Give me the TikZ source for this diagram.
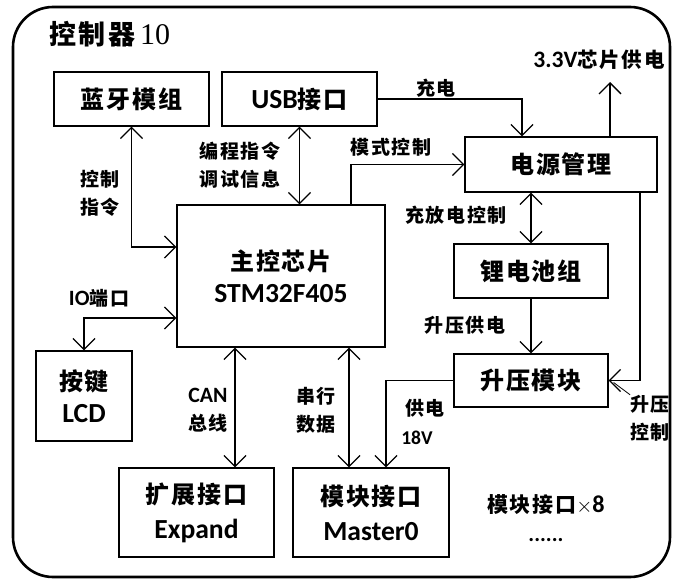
\documentclass[tikz,border=0pt]{standalone}
\usepackage{fontspec}
\setmainfont{Carlito}[Scale=1.15]
\newfontfamily\cjk[LetterSpace=8]{Noto Sans CJK SC}
\newfontfamily\tms{Liberation Serif}
\newcommand{\zh}[1]{{\cjk #1}}
\usetikzlibrary{arrows.meta}
\begin{document}
\begin{tikzpicture}[x=1pt, y=-1pt, every node/.style={font=\bfseries\fontsize{19}{28}\selectfont},
  >={Straight Barb[length=11pt,width=22pt]}]
\tikzset{blk/.style={draw,line width=1.3pt,align=center,inner sep=0pt,font=\bfseries\fontsize{24}{32}\selectfont},
  link/.style={line width=1.3pt},
  lbl/.style={align=center,inner sep=0pt}}
\useasboundingbox (0,0) rectangle (673,581);
\draw[line width=2.6pt,rounded corners=40pt] (13,7) rectangle (670,577);
\node[lbl,font=\fontsize{27}{30}\selectfont] (title) at (110,34) {\zh{\bfseries 控制器}\,{\tms\fontsize{30}{30}\selectfont 10}};
% blocks
\node[blk,minimum width=155pt,minimum height=54pt] (bt) at (131.5,99) {\zh{蓝牙模组}};
\node[blk,minimum width=155pt,minimum height=54pt] (usb) at (299.5,99) {USB\zh{接口}};
\node[blk,minimum width=192pt,minimum height=55pt] (pwr) at (561,164.5) {\zh{电源管理}};
\node[blk,minimum width=208pt,minimum height=142pt] (mcu) at (281,276) {\zh{主控芯片}\\STM32F405};
\node[blk,minimum width=154pt,minimum height=54pt] (bat) at (531,271) {\zh{锂电池组}};
\node[blk,minimum width=154pt,minimum height=53pt] (boost) at (531,380.5) {\zh{升压模块}};
\node[blk,minimum width=96pt,minimum height=90pt] (key) at (84,396) {\zh{按键}\\LCD};
\node[blk,minimum width=155pt,minimum height=89pt,font=\bfseries\fontsize{24}{35}\selectfont] (ext) at (196.5,512.5) {\zh{扩展接口}\\Expand};
\node[blk,minimum width=156pt,minimum height=89pt,font=\bfseries\fontsize{24}{35}\selectfont] (mod) at (371,512.5) {\zh{模块接口}\\Master0};
\coordinate (vout) at (610,82);
% connectors
\draw[link,<->] (bt.south) |- ([yshift=29pt]mcu.west);
\draw[link,<->] (usb.south) -- (usb.south |- mcu.north);
\draw[link,->] (usb.east) -| ([xshift=-39pt]pwr.north);
\draw[link,->] (mcu.north -| 351,0) |- (pwr.west);
\draw[link,->] (pwr.north -| vout) -- (vout);
\draw[link,<->] (bat.north |- pwr.south) -- (bat.north);
\draw[link,->] (bat.south) -- (boost.north);
\draw[link,->] (pwr.south -| 640,0) |- (boost.east);
\draw[link,->] (boost.west) -| (mod.north -| 386,0);
\draw[link,<->] (key.north) |- ([yshift=-42pt]mcu.west);
\draw[link,<->] (mcu.south -| 235,0) -- (ext.north -| 235,0);
\draw[link,<->] (mcu.south -| 349,0) -- (mod.north -| 349,0);
% labels
\node[lbl] (l1) at (100,193) {\zh{控制}\\\zh{指令}};
\node[lbl] (l2) at (240,165) {\zh{编程指令}\\\zh{调试信息}};
\node[lbl] (l3) at (436,88) {\zh{充电}};
\node[lbl] (l4) at (391,147) {\zh{模式控制}};
\node[lbl,font=\bfseries\fontsize{20.5}{24}\selectfont] (l5) at (599,60) {3.3V\zh{芯片供电}};
\node[lbl] (l6) at (456,215) {\zh{充放电控制}};
\node[lbl] (l7) at (465,325) {\zh{升压供电}};
\node[lbl] (l8) at (650,418) {\zh{升压}\\\zh{控制}};
\draw[line width=0.8pt] ([shift={(5pt,-2pt)}]boost.east) -- (l8.north west);
\node[lbl] (l9) at (99,298) {IO\zh{端口}};
\node[lbl] (l10) at (208,410) {CAN\\\zh{总线}};
\node[lbl] (l11) at (316,410) {\zh{串行}\\\zh{数据}};
\node[lbl] (l12) at (425,408) {\zh{供电}};
\node[lbl,font=\bfseries\fontsize{17}{18}\selectfont] (l13) at (417,438) {18V};
\node[lbl,font=\bfseries\fontsize{21}{24}\selectfont] (l14) at (546,505) {\zh{模块接口}$\times$8};
\node[lbl] (l15) at (546,540) {......};
\end{tikzpicture}
\end{document}
